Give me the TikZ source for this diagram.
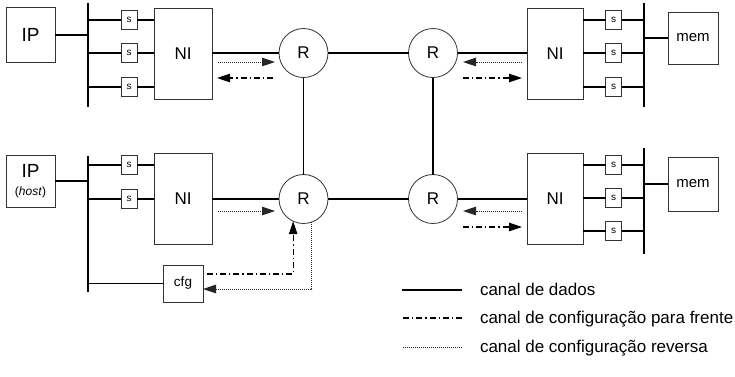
\documentclass[tikz,border=0pt]{standalone}
\usepackage{fontspec}
\setmainfont{Liberation Sans}
\usetikzlibrary{arrows.meta,calc}

\begin{document}
\begin{tikzpicture}[
    x=1pt, y=-1pt,
    every node/.style={inner sep=0pt, outer sep=0pt},
    box/.style={draw=black!80, line width=0.8pt, fill=white},
    ipbox/.style={box, minimum width=49pt, minimum height=55pt, align=center, font=\fontsize{19}{21}\selectfont},
    nibox/.style={box, minimum width=58pt, minimum height=91pt, font=\fontsize{17}{19}\selectfont},
    sbox/.style={box, minimum width=16pt, minimum height=19pt, font=\fontsize{10}{12}\selectfont},
    membox/.style={box, minimum width=50pt, minimum height=53pt, font=\fontsize{15}{17}\selectfont},
    cfgbox/.style={box, minimum width=40pt, minimum height=37pt, font=\fontsize{13.5}{15}\selectfont},
    router/.style={circle, draw=black!80, line width=0.8pt, minimum size=49pt, font=\fontsize{17}{19}\selectfont},
    link/.style={line width=1.1pt},
    bus/.style={line width=2pt},
    fwd/.style={line width=1.1pt, dash pattern=on 6pt off 3pt on 1.2pt off 3pt},
    rev/.style={line width=1pt, black!85, dash pattern=on 1pt off 1pt},
    tip/.style={-{Triangle[length=13pt, width=8.5pt]}},
    legtext/.style={anchor=base west, font=\fontsize{17}{20}\selectfont},
  ]
  \useasboundingbox (0,0) rectangle (735,376);

  % IP cores and memories
  \node[ipbox] (ip1) at (30.5,35) {IP};
  \node[ipbox, minimum height=52pt] (ip2) at (30.5,181) {IP\\[-3pt]{\fontsize{12}{14}\selectfont(\textit{host})}};
  \node[membox, minimum height=52pt] (mem1) at (693,38) {mem};
  \node[membox, minimum height=54pt] (mem2) at (693,184) {mem};

  % Network interfaces
  \node[nibox] (ni1) at (183,53.5) {NI};
  \node[nibox] (ni2) at (183,198.5) {NI};
  \node[nibox, minimum width=56pt] (ni3) at (555,53.5) {NI};
  \node[nibox, minimum width=56pt] (ni4) at (555,198.5) {NI};

  % Routers
  \node[router] (r1) at (303.5,53) {R};
  \node[router] (r2) at (433,53) {R};
  \node[router] (r3) at (303.5,199) {R};
  \node[router] (r4) at (433,199) {R};

  % Shells
  \node[sbox] (s11) at (129,20) {s};
  \node[sbox] (s12) at (129,53) {s};
  \node[sbox] (s13) at (129,87) {s};
  \node[sbox] (s21) at (129,165) {s};
  \node[sbox] (s22) at (129,199) {s};
  \node[sbox] (s31) at (613.5,20) {s};
  \node[sbox] (s32) at (613.5,53) {s};
  \node[sbox] (s33) at (613.5,87) {s};
  \node[sbox] (s41) at (613.5,165) {s};
  \node[sbox] (s42) at (613.5,198) {s};
  \node[sbox] (s43) at (613.5,231) {s};

  % Configuration module
  \node[cfgbox] (cfg) at (183,283.5) {cfg};

  % Buses
  \coordinate (b1t) at (88,3);    \coordinate (b1b) at (88,107);
  \coordinate (b2t) at (88,156);  \coordinate (b2b) at (88,292);
  \coordinate (b3t) at (644,3);   \coordinate (b3b) at (644,107);
  \coordinate (b4t) at (644,148); \coordinate (b4b) at (644,254);
  \draw[bus] (b1t) -- (b1b);
  \draw[bus] (b2t) -- (b2b);
  \draw[bus] (b3t) -- (b3b);
  \draw[bus] (b4t) -- (b4b);
  \draw[bus] (ip1.east) -- (ip1.east -| b1t);
  \draw[bus] (ip2.east) -- (ip2.east -| b2t);
  \draw[bus] (mem1.west) -- (mem1.west -| b3t);
  \draw[bus] (mem2.west) -- (mem2.west -| b4t);

  % Bus to shell to NI
  \foreach \s in {s11,s12,s13} {
    \draw[link] (\s.west -| b1t) -- (\s.west);
    \draw[link] (\s.east) -- (\s.east -| ni1.west);
  }
  \foreach \s in {s21,s22} {
    \draw[link] (\s.west -| b2t) -- (\s.west);
    \draw[link] (\s.east) -- (\s.east -| ni2.west);
  }
  \foreach \s in {s31,s32,s33} {
    \draw[link] (\s.west -| ni3.east) -- (\s.west);
    \draw[link] (\s.east) -- (\s.east -| b3t);
  }
  \foreach \s in {s41,s42,s43} {
    \draw[link] (\s.west -| ni4.east) -- (\s.west);
    \draw[link] (\s.east) -- (\s.east -| b4t);
  }
  \draw[link] (cfg.west -| b2t) -- (cfg.west);

  % Data channels
  \draw[link] (r1.west -| ni1.east) -- (r1.west);
  \draw[link] (r3.west -| ni2.east) -- (r3.west);
  \draw[link] (r2.east) -- (r2.east -| ni3.west);
  \draw[link] (r4.east) -- (r4.east -| ni4.west);
  \draw[link] (r1) -- (r2);
  \draw[link] (r3) -- (r4);
  \draw[link] (r1) -- (r3);
  \draw[link] (r2) -- (r4);

  % Configuration channels
  \draw[rev, tip] ([shift={(6,8.5)}]ni1.east) -- ([shift={(-28.5,9)}]r1.center);
  \draw[fwd, tip] ([shift={(-30.5,25)}]r1.center) -- ([shift={(5,24.5)}]ni1.east);
  \draw[rev, tip] ([shift={(-5,8.5)}]ni3.west) -- ([shift={(30,9)}]r2.center);
  \draw[fwd, tip] ([shift={(30,25)}]r2.center) -- ([shift={(-5,24.5)}]ni3.west);
  \draw[rev, tip] ([shift={(6,12.5)}]ni2.east) -- ([shift={(-28.5,12)}]r3.center);
  \draw[rev, tip] ([shift={(-5,12.5)}]ni4.west) -- ([shift={(30,12)}]r4.center);
  \draw[fwd, tip] ([shift={(30,28)}]r4.center) -- ([shift={(-5,28.5)}]ni4.west);
  \draw[fwd, tip] ([shift={(4,-9.5)}]cfg.east) -| (r3.-115);
  \draw[rev, tip] (r3.-70) |- ([shift={(0,5.5)}]cfg.east);

  % Legend
  \node[legtext] (leg1) at (480,295.5) {canal de dados};
  \node[legtext] (leg2) at (480,323.5) {canal de configuração para frente};
  \node[legtext] (leg3) at (480,352.5) {canal de configuração reversa};
  \draw[link] ([shift={(-18,-5.5)}]leg1.base west) -- ++(-60,0);
  \draw[fwd] ([shift={(-18,-5.5)}]leg2.base west) -- ++(-60,0);
  \draw[rev] ([shift={(-18,-5.5)}]leg3.base west) -- ++(-60,0);
\end{tikzpicture}
\end{document}
